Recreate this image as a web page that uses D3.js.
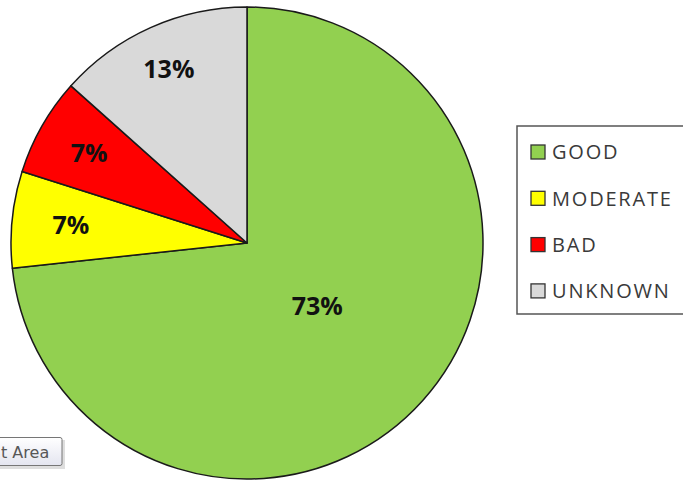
<!DOCTYPE html>
<html>
<head>
<meta charset="utf-8">
<script src="https://cdn.jsdelivr.net/npm/d3@7"></script>
<style>
body { margin: 0; background: #fff; }
svg { display: block; }
</style>
</head>
<body>
<svg id="chart" width="683" height="480"></svg>
<script>
const categories = ["GOOD", "MODERATE", "BAD", "UNKNOWN"];
const values = [73.3, 6.6, 6.7, 13.4];
const colors = ["#92D050", "#FFFF00", "#FF0000", "#D9D9D9"];
// how far out each label sits, as a share of the radius
const labelRadius = [0.4, 0.75, 0.77, 0.81];

const svg = d3.select("#chart");
const cx = 247, cy = 243, r = 236;
const total = d3.sum(values);

const pie = d3.pie().sort(null).value((d) => d)(values);
const arc = d3.arc().innerRadius(0).outerRadius(r);

const g = svg.append("g").attr("transform", `translate(${cx},${cy})`);

g.selectAll("path.slice")
    .data(pie)
    .enter().append("path")
    .attr("class", "slice")
    .attr("d", arc)
    .attr("fill", (d, i) => colors[i])
    .attr("stroke", "#1a1a1a")
    .attr("stroke-width", 1.5)
    .attr("stroke-linejoin", "round");

g.selectAll("text.lbl")
    .data(pie)
    .enter().append("text")
    .attr("class", "lbl")
    .attr("transform", function(d, i) {
	const a = (d.startAngle + d.endAngle) / 2;
	const rr = r * labelRadius[i];
	return `translate(${Math.sin(a) * rr},${-Math.cos(a) * rr})`;
    })
    .attr("text-anchor", "middle")
    .attr("dy", "0.36em")
    .style("font-family", "'Open Sans', sans-serif")
    .style("font-weight", "bold")
    .style("font-size", "25px")
    .style("fill", "#111")
    .text((d) => Math.round(d.value / total * 100) + "%");

/* LEGEND */
const legend = svg.append("g").attr("transform", "translate(517,126)");
legend.append("rect")
    .attr("x", 0).attr("y", 0)
    .attr("width", 180).attr("height", 188)
    .attr("fill", "#fff")
    .attr("stroke", "#555")
    .attr("stroke-width", 1.5);

const item = legend.selectAll("g.item")
    .data(categories)
    .enter().append("g")
    .attr("class", "item")
    .attr("transform", (d, i) => `translate(14,${26 + i * 46.3})`);

item.append("rect")
    .attr("x", 0).attr("y", -7)
    .attr("width", 14).attr("height", 14)
    .attr("fill", (d, i) => colors[i])
    .attr("stroke", "#333")
    .attr("stroke-width", 1.3);

item.append("text")
    .attr("x", 21)
    .attr("dy", "0.36em")
    .style("font-family", "'Open Sans', sans-serif")
    .style("font-size", "20px")
    .style("letter-spacing", "1.8px")
    .style("fill", "#3a3a3a")
    .text((d) => d);

/* TOOLTIP (cut off at left edge) */
const tip = svg.append("g").attr("transform", "translate(0,437)");
const grad = svg.append("defs").append("linearGradient")
    .attr("id", "tipgrad").attr("x1", 0).attr("y1", 0).attr("x2", 0).attr("y2", 1);
grad.append("stop").attr("offset", "0%").attr("stop-color", "#fff");
grad.append("stop").attr("offset", "100%").attr("stop-color", "#e4e5f0");
tip.append("rect")
    .attr("x", -10).attr("y", 3)
    .attr("width", 75).attr("height", 29)
    .attr("fill", "#c8c8c8").attr("opacity", 0.6);
tip.append("rect")
    .attr("x", -10).attr("y", 0.5)
    .attr("width", 72).attr("height", 28)
    .attr("rx", 2)
    .attr("fill", "url(#tipgrad)")
    .attr("stroke", "#767676");
tip.append("text")
    .attr("x", 1).attr("y", 21)
    .style("font-family", "'DejaVu Sans', sans-serif")
    .style("font-size", "16px")
    .style("fill", "#575757")
    .text("t Area");
</script>
</body>
</html>
